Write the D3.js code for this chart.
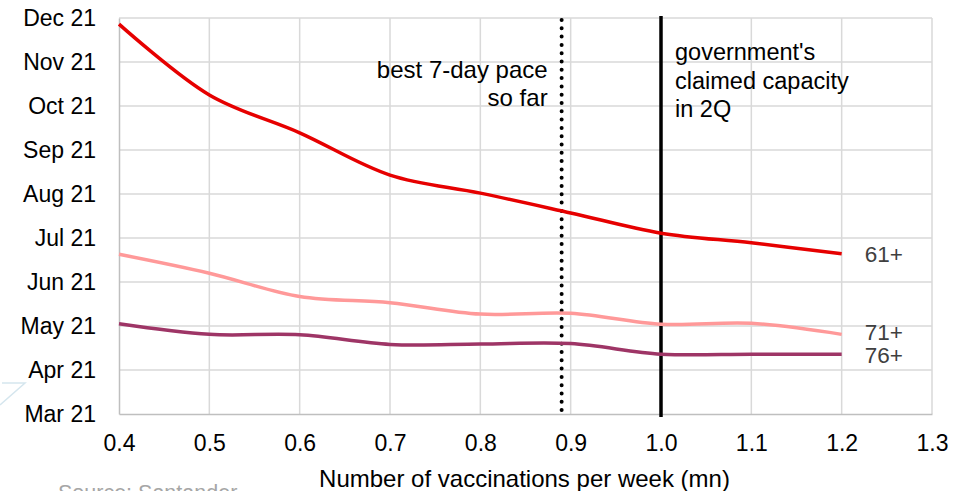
<!DOCTYPE html>
<html>
<head>
<meta charset="utf-8">
<script src="https://cdn.jsdelivr.net/npm/d3@7"></script>
<style>
  body { margin: 0; background: #fff; }
  svg { display: block; font-family: "Liberation Sans", Arial, sans-serif; }
</style>
</head>
<body>
<div id="chart"></div>
<script>
// vaccinations per week (mn)
var paces = [0.4, 0.5, 0.6, 0.7, 0.8, 0.9, 1.0, 1.1, 1.2];
// month index: 0 = Mar 21 ... 9 = Dec 21
var months = ["Mar 21", "Apr 21", "May 21", "Jun 21", "Jul 21", "Aug 21", "Sep 21", "Oct 21", "Nov 21", "Dec 21"];
var xTicks = [0.4, 0.5, 0.6, 0.7, 0.8, 0.9, 1.0, 1.1, 1.2, 1.3];
var age61 = [8.86, 7.25, 6.39, 5.43, 5.02, 4.57, 4.11, 3.89, 3.64];
var age71 = [3.63, 3.20, 2.67, 2.53, 2.27, 2.29, 2.04, 2.06, 1.81];
var age76 = [2.05, 1.81, 1.80, 1.58, 1.59, 1.60, 1.36, 1.36, 1.36];
var seriesNames = ["61+", "71+", "76+"];
var bestPace = 0.89, govCapacity = 1.0;

var W = 973, H = 491;
var margin = {top: 18, right: 41, bottom: 77, left: 119};
var width = W - margin.left - margin.right,
    height = H - margin.top - margin.bottom;

var svg = d3.select("#chart").append("svg")
    .attr("width", W).attr("height", H);

// faint decoration at the left edge
svg.append("path")
    .attr("d", "M0,405 L25,383 L2,383")
    .attr("fill", "none").attr("stroke", "#d5e6ee").attr("stroke-width", 1.5);

var g = svg.append("g").attr("transform", "translate(" + margin.left + "," + margin.top + ")");

var x = d3.scaleLinear().domain([0.4, 1.3]).range([0, width]);
var y = d3.scaleLinear().domain([0, 9]).range([height, 0]);

// grid
g.append("g").selectAll("line").data(d3.range(1, 10)).join("line")
    .attr("x1", 0).attr("x2", width)
    .attr("y1", function(d) { return y(d); }).attr("y2", function(d) { return y(d); })
    .attr("stroke", "#d9d9d9").attr("stroke-width", 1.5);
g.append("g").selectAll("line").data(xTicks.slice(1)).join("line")
    .attr("x1", function(d) { return x(d); }).attr("x2", function(d) { return x(d); })
    .attr("y1", 0).attr("y2", height)
    .attr("stroke", "#d9d9d9").attr("stroke-width", 1.5);

// axes
var yAxis = d3.axisLeft(y).tickValues(d3.range(0, 10)).tickSize(0).tickPadding(23)
    .tickFormat(function(d) { return months[d]; });
var xAxis = d3.axisBottom(x).tickValues(xTicks).tickSize(0).tickPadding(21)
    .tickFormat(d3.format(".1f"));

var ya = g.append("g").call(yAxis);
var xa = g.append("g").attr("transform", "translate(0," + height + ")").call(xAxis);
[ya, xa].forEach(function(a) {
    a.select(".domain").attr("stroke", "#bfbfbf").attr("stroke-width", 1.5);
    a.selectAll("text").attr("font-size", 23).attr("fill", "#000")
        .attr("font-family", "'Liberation Sans', Arial, sans-serif");
});

// reference lines
g.append("line")
    .attr("x1", x(bestPace)).attr("x2", x(bestPace))
    .attr("y1", 2).attr("y2", height + 2)
    .attr("stroke", "#000").attr("stroke-width", 4)
    .attr("stroke-linecap", "round").attr("stroke-dasharray", "0,8.3");
g.append("line")
    .attr("x1", x(govCapacity)).attr("x2", x(govCapacity))
    .attr("y1", -2).attr("y2", height + 3)
    .attr("stroke", "#000").attr("stroke-width", 3.5);

// series
var series = [
    {name: seriesNames[0], values: age61, color: "#e60000", w: 3.5, dy: 8},
    {name: seriesNames[1], values: age71, color: "#ff9999", w: 3.5, dy: 6},
    {name: seriesNames[2], values: age76, color: "#9e3566", w: 3.5, dy: 9}
];
var line = d3.line()
    .x(function(d, i) { return x(paces[i]); })
    .y(function(d) { return y(d); })
    .curve(d3.curveCatmullRom.alpha(0.5));

series.forEach(function(s) {
    g.append("path").datum(s.values)
        .attr("d", line)
        .attr("fill", "none").attr("stroke", s.color).attr("stroke-width", s.w);
    g.append("text")
        .attr("x", x(paces[paces.length - 1]) + 23)
        .attr("y", y(s.values[s.values.length - 1]) + s.dy)
        .attr("font-size", 22.5).attr("fill", "#404040")
        .text(s.name);
});

// annotations
var a1 = g.append("text").attr("text-anchor", "end").attr("font-size", 24).attr("fill", "#000");
a1.append("tspan").attr("x", x(bestPace) - 14).attr("y", 60).text("best 7-day pace");
a1.append("tspan").attr("x", x(bestPace) - 14).attr("y", 88).text("so far");

var a2 = g.append("text").attr("font-size", 23.5).attr("fill", "#000");
["government's", "claimed capacity", "in 2Q"].forEach(function(t, i) {
    a2.append("tspan").attr("x", x(govCapacity) + 14).attr("y", 42 + i * 28.5).text(t);
});

// axis title
svg.append("text")
    .attr("x", margin.left + width / 2 - 1).attr("y", 487)
    .attr("text-anchor", "middle").attr("font-size", 24).attr("fill", "#000")
    .text("Number of vaccinations per week (mn)");

// source, mostly cut off at the bottom edge
svg.append("text")
    .attr("x", 58).attr("y", 500)
    .attr("font-size", 21.5).attr("fill", "#a6a6a6")
    .text("Source: Santander");
</script>
</body>
</html>
